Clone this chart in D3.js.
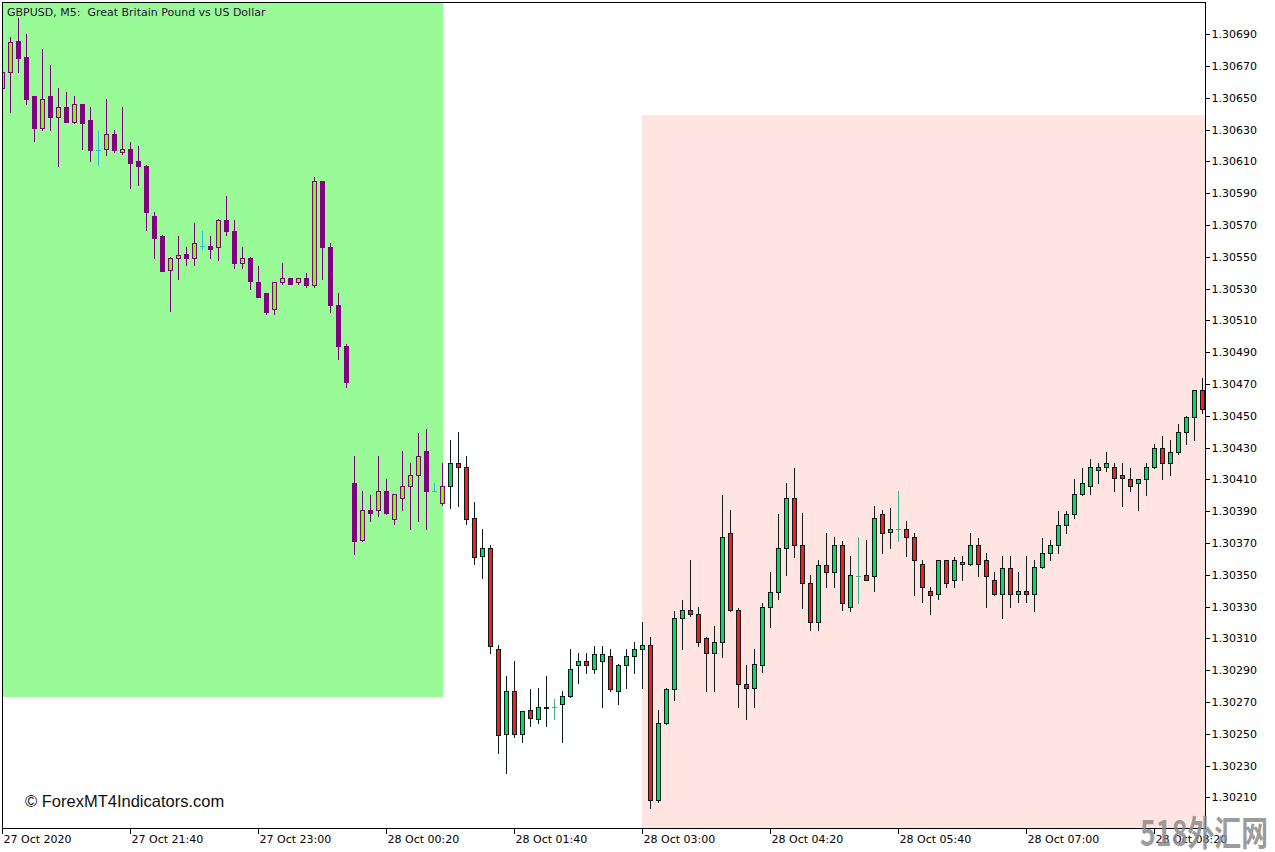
<!DOCTYPE html>
<html><head><meta charset="utf-8">
<script src="https://cdn.jsdelivr.net/npm/d3@7"></script>
<style>html,body{margin:0;padding:0;background:#fff;} svg{display:block} text{white-space:pre}</style>
</head><body>
<svg id="chart" width="1275" height="852"></svg>
<script>
// ---- data ----
const symbolTitle = "GBPUSD, M5:  Great Britain Pound vs US Dollar";
const firstBarTime = "2020-10-27T20:20:00";
const barMinutes = 5;
const open = [1.30656,1.30666,1.30686,1.30676,1.30651,1.30631,1.30651,1.30638,1.30644,1.30635,
1.30646,1.30636,1.30617,1.30618,1.30627,1.30616,1.30618,1.30610,1.30607,1.30576,
1.30563,1.30542,1.30549,1.30552,1.30549,1.30557,1.30557,1.30556,1.30573,1.30566,
1.30546,1.30549,1.30534,1.30527,1.30517,1.30534,1.30537,1.30534,1.30537,1.30532,
1.30598,1.30556,1.30520,1.30494,1.30408,1.30372,1.30391,1.30391,1.30403,1.30385,
1.30398,1.30406,1.30413,1.30428,1.30403,1.30395,1.30406,1.30420,1.30418,1.30386,
1.30362,1.30367,1.30303,1.30250,1.30277,1.30250,1.30265,1.30259,1.30267,1.30267,
1.30269,1.30274,1.30293,1.30296,1.30291,1.30296,1.30299,1.30277,1.30293,1.30299,
1.30303,1.30306,1.30208,1.30257,1.30278,1.30323,1.30328,1.30325,1.30310,1.30301,
1.30308,1.30376,1.30328,1.30281,1.30279,1.30293,1.30330,1.30339,1.30367,1.30398,
1.30369,1.30345,1.30320,1.30356,1.30352,1.30369,1.30330,1.30349,1.30350,1.30349,
1.30388,1.30377,1.30379,1.30379,1.30374,1.30357,1.30340,1.30338,1.30359,1.30347,
1.30357,1.30357,1.30369,1.30359,1.30347,1.30338,1.30354,1.30338,1.30340,1.30338,
1.30355,1.30364,1.30369,1.30381,1.30388,1.30401,1.30406,1.30416,1.30418,1.30418,
1.30413,1.30410,1.30408,1.30410,1.30418,1.30430,1.30420,1.30427,1.30440,1.30449,
1.30466];
const high = [1.30674,1.30688,1.30700,1.30690,1.30651,1.30681,1.30671,1.30656,1.30654,1.30651,
1.30646,1.30644,1.30629,1.30649,1.30630,1.30644,1.30622,1.30620,1.30608,1.30578,
1.30564,1.30550,1.30563,1.30556,1.30571,1.30566,1.30563,1.30574,1.30588,1.30573,
1.30556,1.30550,1.30544,1.30527,1.30534,1.30546,1.30537,1.30537,1.30540,1.30600,
1.30598,1.30559,1.30527,1.30495,1.30425,1.30403,1.30400,1.30425,1.30410,1.30401,
1.30428,1.30420,1.30439,1.30442,1.30408,1.30420,1.30435,1.30440,1.30425,1.30396,
1.30379,1.30369,1.30306,1.30286,1.30296,1.30264,1.30278,1.30279,1.30286,1.30272,
1.30277,1.30303,1.30301,1.30301,1.30305,1.30305,1.30303,1.30294,1.30303,1.30308,
1.30320,1.30311,1.30265,1.30279,1.30327,1.30334,1.30359,1.30330,1.30311,1.30318,
1.30400,1.30391,1.30329,1.30293,1.30303,1.30332,1.30352,1.30388,1.30408,1.30417,
1.30389,1.30350,1.30359,1.30376,1.30374,1.30371,1.30362,1.30374,1.30372,1.30393,
1.30391,1.30392,1.30403,1.30384,1.30376,1.30359,1.30342,1.30359,1.30359,1.30361,
1.30362,1.30376,1.30373,1.30364,1.30352,1.30362,1.30362,1.30352,1.30362,1.30359,
1.30373,1.30372,1.30390,1.30390,1.30410,1.30417,1.30423,1.30420,1.30427,1.30420,
1.30420,1.30417,1.30410,1.30420,1.30432,1.30437,1.30435,1.30445,1.30450,1.30466,
1.30474];
const low = [1.30652,1.30641,1.30666,1.30646,1.30623,1.30630,1.30630,1.30607,1.30635,1.30634,
1.30618,1.30610,1.30608,1.30614,1.30616,1.30615,1.30593,1.30595,1.30567,1.30549,
1.30541,1.30516,1.30536,1.30545,1.30545,1.30555,1.30549,1.30548,1.30564,1.30543,
1.30543,1.30530,1.30525,1.30514,1.30514,1.30533,1.30533,1.30533,1.30531,1.30531,
1.30536,1.30515,1.30486,1.30468,1.30363,1.30371,1.30384,1.30387,1.30388,1.30382,
1.30391,1.30379,1.30384,1.30379,1.30403,1.30394,1.30392,1.30393,1.30382,1.30357,
1.30348,1.30301,1.30238,1.30225,1.30248,1.30245,1.30255,1.30257,1.30255,1.30259,
1.30245,1.30273,1.30282,1.30288,1.30288,1.30267,1.30277,1.30269,1.30279,1.30288,
1.30279,1.30203,1.30207,1.30256,1.30271,1.30303,1.30324,1.30305,1.30277,1.30277,
1.30298,1.30327,1.30267,1.30259,1.30267,1.30289,1.30317,1.30335,1.30350,1.30361,
1.30329,1.30315,1.30315,1.30342,1.30342,1.30328,1.30327,1.30332,1.30347,1.30340,
1.30364,1.30367,1.30371,1.30362,1.30337,1.30333,1.30325,1.30335,1.30342,1.30342,
1.30347,1.30356,1.30349,1.30330,1.30337,1.30323,1.30330,1.30333,1.30333,1.30327,
1.30354,1.30359,1.30364,1.30376,1.30386,1.30400,1.30401,1.30408,1.30415,1.30403,
1.30393,1.30403,1.30391,1.30400,1.30417,1.30410,1.30413,1.30426,1.30432,1.30435,
1.30452];
const close = [1.30666,1.30685,1.30675,1.30649,1.30631,1.30649,1.30638,1.30644,1.30635,1.30646,
1.30634,1.30617,1.30617,1.30627,1.30617,1.30618,1.30609,1.30607,1.30578,1.30562,
1.30541,1.30549,1.30551,1.30549,1.30559,1.30557,1.30555,1.30573,1.30566,1.30546,
1.30549,1.30535,1.30525,1.30515,1.30534,1.30537,1.30533,1.30537,1.30532,1.30598,
1.30556,1.30520,1.30494,1.30471,1.30371,1.30391,1.30389,1.30403,1.30389,1.30401,
1.30406,1.30413,1.30425,1.30403,1.30403,1.30406,1.30420,1.30418,1.30385,1.30361,
1.30367,1.30305,1.30249,1.30277,1.30250,1.30264,1.30260,1.30267,1.30266,1.30267,
1.30274,1.30291,1.30296,1.30293,1.30300,1.30300,1.30278,1.30293,1.30299,1.30303,
1.30306,1.30208,1.30257,1.30278,1.30323,1.30328,1.30325,1.30308,1.30301,1.30308,
1.30374,1.30328,1.30281,1.30279,1.30294,1.30330,1.30339,1.30367,1.30398,1.30369,
1.30345,1.30320,1.30356,1.30352,1.30369,1.30332,1.30350,1.30349,1.30347,1.30386,
1.30376,1.30379,1.30379,1.30374,1.30359,1.30342,1.30337,1.30359,1.30345,1.30359,
1.30358,1.30369,1.30357,1.30349,1.30338,1.30354,1.30338,1.30340,1.30338,1.30355,
1.30364,1.30369,1.30381,1.30388,1.30401,1.30408,1.30418,1.30418,1.30420,1.30411,
1.30411,1.30406,1.30410,1.30418,1.30430,1.30420,1.30427,1.30440,1.30449,1.30466,
1.30454];
const priceTicks = [1.30210,1.30230,1.30250,1.30270,1.30290,1.30310,1.30330,1.30350,1.30370,1.30390,
1.30410,1.30430,1.30450,1.30470,1.30490,1.30510,1.30530,1.30550,1.30570,1.30590,
1.30610,1.30630,1.30650,1.30670,1.30690];
const timeTickBars = [0,16,32,48,64,80,96,112,128,144];
const timeTickLabels = ["27 Oct 2020","27 Oct 21:40","27 Oct 23:00","28 Oct 00:20","28 Oct 01:40",
"28 Oct 03:00","28 Oct 04:20","28 Oct 05:40","28 Oct 07:00","28 Oct 08:20"];
// zones (rectangles drawn on chart)
const zoneFrom = ["2020-10-27T19:00:00","2020-10-28T03:00:00"];
const zoneTo = ["2020-10-28T00:55:00","2020-10-28T10:00:00"];
const zoneTop = [1.30760,1.30639];
const zoneBottom = [1.30273,1.30150];
const zoneColors = ["#98FB98","#FFE4E1"];

// ---- layout ----
const W = 1275, H = 852;
const plot = {left: 2, top: 2, right: 1205, bottom: 828};
const parse = d3.timeParse("%Y-%m-%dT%H:%M:%S");
const t0 = parse(firstBarTime);
const times = open.map((_, i) => d3.timeMinute.offset(t0, i * barMinutes));

const x = d3.scaleTime().domain([times[0], times[times.length - 1]]).range([2, 1202]);
const y = d3.scaleLinear().domain([1.30210, 1.30690]).range([797.3, 34.3]);

const svg = d3.select("#chart");
svg.append("rect").attr("width", W).attr("height", H).attr("fill", "#fff");

svg.append("defs").append("clipPath").attr("id", "plotclip")
  .append("rect").attr("x", plot.left).attr("y", plot.top)
  .attr("width", plot.right - plot.left).attr("height", plot.bottom - plot.top);

const g = svg.append("g").attr("clip-path", "url(#plotclip)").attr("shape-rendering", "crispEdges");

// zones
const zones = zoneFrom.map((f, i) => ({from: parse(f), to: parse(zoneTo[i]), top: zoneTop[i], bottom: zoneBottom[i], color: zoneColors[i]}));
g.selectAll("rect.zone").data(zones).join("rect").attr("class", "zone")
  .attr("x", d => Math.round(x(d.from)))
  .attr("width", (d, i) => Math.round(x(d.to)) - Math.round(x(d.from)) + (i === 0 ? 1 : 0))
  .attr("y", d => Math.round(y(d.top)))
  .attr("height", d => Math.round(y(d.bottom)) - Math.round(y(d.top)))
  .attr("fill", d => d.color);

// candles
const bars = open.map((o, i) => ({i, t: times[i], o, h: high[i], l: low[i], c: close[i]}));
bars.forEach(b => {
  b.inGreen = b.t <= zones[0].to && b.t >= zones[0].from && b.h <= zones[0].top && b.l >= zones[0].bottom;
  b.doji = b.o === b.c;
  b.bull = b.c > b.o;
});
const col = {
  gBull: "#7CFC00", gBear: "#800080", gLine: "#800080", gDoji: "#33b5e5",
  bull: "#00dc64", bear: "#ff1a1a", line: "#0b1b1b", doji: "#3cb38a"
};
const cg = g.append("g");
bars.forEach(b => {
  const cx = Math.round(x(b.t));
  const yh = Math.round(y(b.h)), yl = Math.round(y(b.l));
  const lineCol = b.doji ? (b.inGreen ? col.gDoji : col.doji) : (b.inGreen ? col.gLine : col.line);
  cg.append("rect").attr("x", cx).attr("y", yh).attr("width", 1).attr("height", yl - yh + 1).attr("fill", lineCol);
  if (b.doji) {
    const yc = Math.round(y(b.c));
    cg.append("rect").attr("x", cx - 2).attr("y", yc).attr("width", 5).attr("height", 1).attr("fill", lineCol);
  } else {
    const top = Math.round(y(Math.max(b.o, b.c)));
    let bot = Math.round(y(Math.min(b.o, b.c)));
    if (bot - top < 1) bot = top + 1;
    const fill = b.inGreen ? (b.bull ? col.gBull : col.gBear) : (b.bull ? col.bull : col.bear);
    cg.append("rect").attr("x", cx - 2 + 0.5).attr("y", top + 0.5)
      .attr("width", 4).attr("height", bot - top)
      .attr("fill", fill).attr("stroke", lineCol).attr("stroke-width", 1);
  }
});

// title inside chart
svg.append("text").attr("x", 7).attr("y", 16)
  .attr("font-family", "DejaVu Sans, sans-serif").attr("font-size", 11)
  .attr("fill", "#2b0f3a").attr("xml:space", "preserve").text(symbolTitle);

// copyright
svg.append("text").attr("x", 25).attr("y", 807)
  .attr("font-family", "Liberation Sans, Arial, sans-serif").attr("font-size", 16.5)
  .attr("fill", "#111").text("© ForexMT4Indicators.com");

// frame
svg.append("rect").attr("x", plot.left + 0.5).attr("y", plot.top + 0.5)
  .attr("width", plot.right - plot.left).attr("height", plot.bottom - plot.top)
  .attr("fill", "none").attr("stroke", "#000").attr("shape-rendering", "crispEdges");

// price axis
const yAxis = d3.axisRight(y).tickValues(priceTicks).tickSize(4).tickPadding(2).tickFormat(d3.format(".5f"));
const ya = svg.append("g").attr("transform", `translate(${plot.right + 0.5},0)`).call(yAxis);
ya.select(".domain").remove();
ya.selectAll("line").attr("stroke", "#000").attr("shape-rendering", "crispEdges");
ya.selectAll("text").attr("font-family", "DejaVu Sans, sans-serif").attr("font-size", 11).attr("fill", "#000");

// time axis
const tickDates = timeTickBars.map(i => times[i]);
const xAxis = d3.axisBottom(x).tickValues(tickDates).tickSize(5).tickPadding(2)
  .tickFormat((d, i) => timeTickLabels[i]);
const xa = svg.append("g").attr("transform", `translate(0,${plot.bottom + 0.5})`).call(xAxis);
xa.select(".domain").remove();
xa.selectAll("line").attr("stroke", "#000").attr("shape-rendering", "crispEdges");
xa.selectAll("text").attr("font-family", "DejaVu Sans, sans-serif").attr("font-size", 11)
  .attr("fill", "#000").attr("text-anchor", "start").attr("dx", 1);

// watermark
svg.append("text").attr("x", 1140).attr("y", 846)
  .attr("font-family", "Noto Sans CJK SC, sans-serif").attr("font-weight", "bold")
  .attr("font-size", 35).attr("textLength", 128).attr("lengthAdjust", "spacingAndGlyphs")
  .attr("fill", "#8a8a8a").attr("fill-opacity", 0.85).text("518外汇网");
</script>
</body></html>
